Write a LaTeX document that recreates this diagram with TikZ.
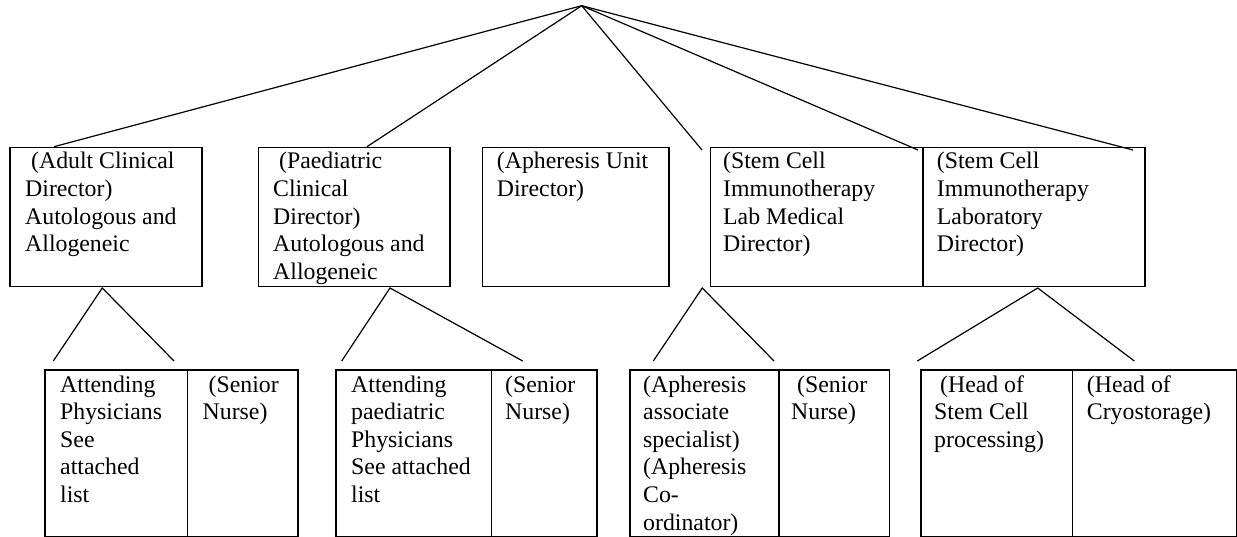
\documentclass[tikz,border=0pt]{standalone}
\usepackage{fontspec}
\setmainfont{Liberation Serif}
\usetikzlibrary{calc}
\newcommand{\boxtext}[1]{\parbox[t]{220pt}{\fontsize{23.8}{27.6}\selectfont\raggedright #1}}
\newcommand{\lsp}{\hspace*{0.25em}}
\tikzset{
  box/.style={draw, line width=1.6pt, inner sep=0pt, anchor=north west},
  lbl/.style={inner sep=0pt, anchor=base west},
  link/.style={line width=1.2pt, line join=miter}
}
\begin{document}
\begin{tikzpicture}[x=1pt,y=-1pt]
\useasboundingbox (0,0) rectangle (1237,537);
% top-level boxes
\node[box, minimum width=191.7pt, minimum height=139pt] (d1) at (9.3,146.7) {};
\node[box, minimum width=191.3pt, minimum height=139pt] (d2) at (257.7,146.7) {};
\node[box, minimum width=186.3pt, minimum height=139pt] (d3) at (481.7,146.7) {};
\node[box, minimum width=212.5pt, minimum height=139pt] (d4) at (709.5,146.7) {};
\node[box, minimum width=222pt, minimum height=139pt] (d5) at (922,146.7) {};
% top-level texts
\node[lbl] (t1) at (25,169) {\boxtext{\lsp(Adult Clinical\\Director)\\Autologous and\\Allogeneic}};
\node[lbl] (t2) at (273,169) {\boxtext{\lsp(Paediatric\\Clinical\\Director)\\Autologous and\\Allogeneic}};
\node[lbl] (t3) at (496.7,169) {\boxtext{(Apheresis Unit\\Director)}};
\node[lbl] (t4) at (723,169) {\boxtext{(Stem Cell\\Immunotherapy\\Lab Medical\\Director)}};
\node[lbl] (t5) at (936.7,169) {\boxtext{(Stem Cell\\Immunotherapy\\Laboratory\\Director)}};
% bottom boxes
\node[box, minimum width=142.7pt, minimum height=166.7pt] (a1) at (44,369.3) {};
\node[box, minimum width=110.3pt, minimum height=166.7pt] (a2) at (186.7,369.3) {};
\node[box, minimum width=155.7pt, minimum height=166.7pt] (b1) at (335,369.3) {};
\node[box, minimum width=105.3pt, minimum height=166.7pt] (b2) at (490.7,369.3) {};
\node[box, minimum width=149pt, minimum height=166.7pt] (c1) at (629,369.3) {};
\node[box, minimum width=110.5pt, minimum height=166.7pt] (c2) at (778,369.3) {};
\node[box, minimum width=151.8pt, minimum height=166.7pt] (g1) at (920,369.3) {};
\node[box, minimum width=163.7pt, minimum height=166.7pt] (g2) at (1071.8,369.3) {};
% bottom texts
\node[lbl] (ta1) at (60,392) {\boxtext{Attending\\Physicians\\See\\attached\\list}};
\node[lbl] (ta2) at (202.5,392) {\boxtext{\lsp(Senior\\Nurse)}};
\node[lbl] (tb1) at (351,392) {\boxtext{Attending\\paediatric\\Physicians\\See attached\\list}};
\node[lbl] (tb2) at (505,392) {\boxtext{(Senior\\Nurse)}};
\node[lbl] (tc1) at (643,392) {\boxtext{(Apheresis\\associate\\specialist)\\(Apheresis\\Co-\\ordinator)}};
\node[lbl] (tc2) at (791,392) {\boxtext{\lsp(Senior\\Nurse)}};
\node[lbl] (tg1) at (934,392) {\boxtext{\lsp(Head of\\Stem Cell\\processing)}};
\node[lbl] (tg2) at (1086.7,392) {\boxtext{(Head of\\Cryostorage)}};
% connector points
\coordinate (top) at (581.7,5.7);
\coordinate (e1) at (54,146.7);
\coordinate (e2) at (367,146.7);
\coordinate (e3) at (702,150);
\coordinate (e4) at (918,150);
\coordinate (e5) at (1133,150);
\coordinate (s1) at (102.3,288);
\coordinate (s1l) at (53.3,361);
\coordinate (s1r) at (174,361);
\coordinate (s2) at (390,288);
\coordinate (s2l) at (341.7,361);
\coordinate (s2r) at (522.7,361);
\coordinate (s3) at (702.3,288);
\coordinate (s3l) at (653.3,361);
\coordinate (s3r) at (774,361);
\coordinate (s4) at (1037.7,288);
\coordinate (s4l) at (917.3,361);
\coordinate (s4r) at (1134.3,361);
% connectors
\draw[link] (top) -- (e1);
\draw[link] (top) -- (e2);
\draw[link] (top) -- (e3);
\draw[link] (top) -- (e4);
\draw[link] (top) -- (e5);
\draw[link] (s1l) -- (s1) -- (s1r);
\draw[link] (s2l) -- (s2) -- (s2r);
\draw[link] (s3l) -- (s3) -- (s3r);
\draw[link] (s4l) -- (s4) -- (s4r);
\end{tikzpicture}
\end{document}
